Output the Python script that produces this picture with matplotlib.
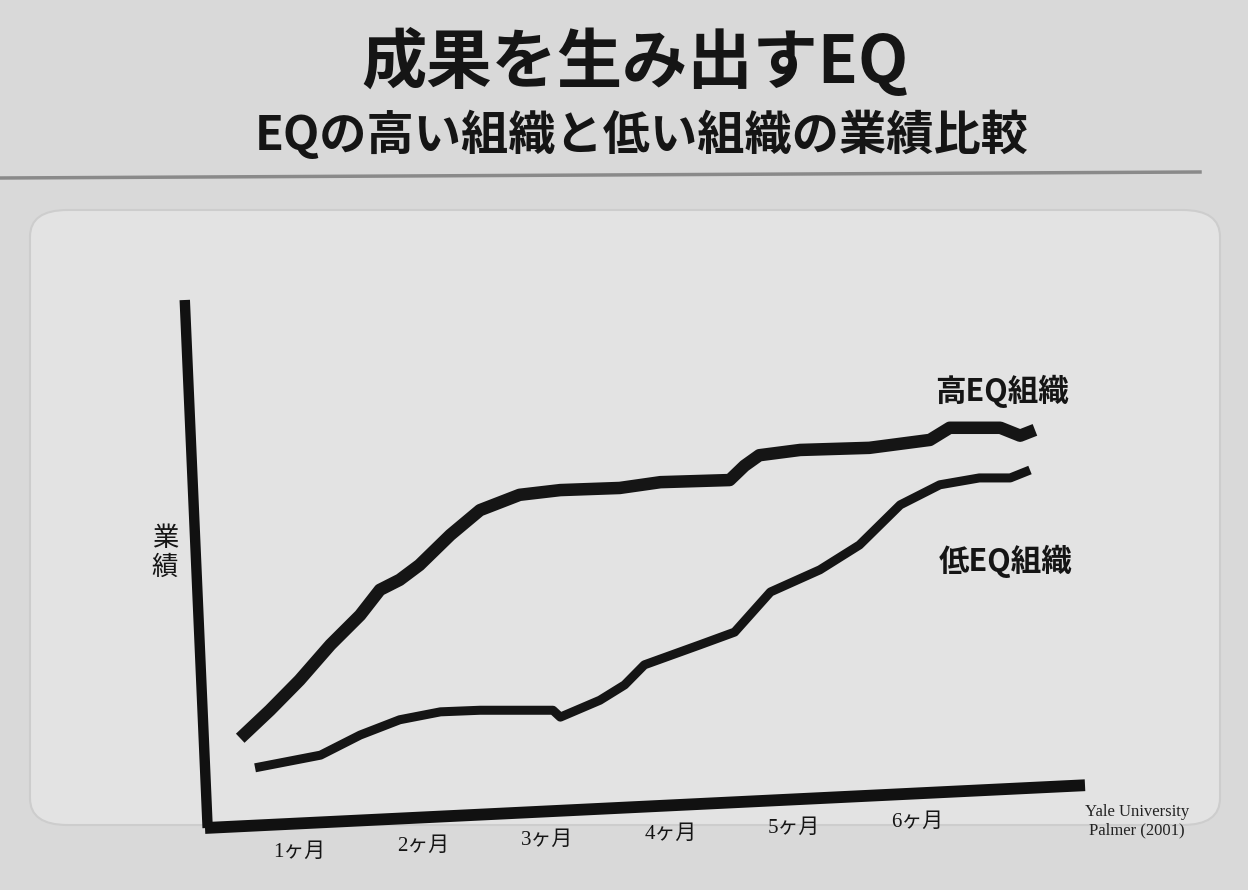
import matplotlib
matplotlib.use("Agg")
import matplotlib.pyplot as plt
from matplotlib.patches import FancyBboxPatch
import numpy as np

plt.rcParams['font.family'] = ['Noto Sans CJK JP', 'DejaVu Sans']

# data (months, performance in arbitrary units 0-100)
high_x = [0.52, 0.76, 1.00, 1.25, 1.49, 1.65, 1.81, 1.97, 2.22, 2.46, 2.78, 3.11,
          3.59, 3.92, 4.48, 4.60, 4.72, 5.05, 5.61, 6.10, 6.26, 6.67, 6.83, 6.95]
high_y = [17.0, 22.3, 28.0, 34.7, 40.3, 45.1, 47.0, 49.8, 55.5, 60.2, 63.1, 64.0,
          64.4, 65.5, 65.9, 68.6, 70.6, 71.6, 72.0, 73.5, 75.8, 75.8, 74.3, 75.4]
low_x = [0.64, 1.17, 1.49, 1.81, 2.14, 2.46, 3.05, 3.11, 3.43, 3.63, 3.79, 4.24,
         4.52, 4.81, 5.21, 5.53, 5.86, 6.18, 6.50, 6.75, 6.91]
low_y = [11.4, 13.8, 17.6, 20.5, 22.0, 22.3, 22.3, 21.0, 24.2, 27.1, 30.9, 34.7,
         37.1, 44.7, 48.9, 53.6, 61.2, 65.0, 66.3, 66.3, 67.8]
months = [1, 2, 3, 4, 5, 6]
month_labels = ['1ヶ月', '2ヶ月', '3ヶ月', '4ヶ月', '5ヶ月', '6ヶ月']

W, H = 1248, 890
fig = plt.figure(figsize=(W / 100, H / 100), dpi=100)
fig.patch.set_facecolor('#d9d9d9')

# slide panel (rounded box) and header rule, kept behind the axes
panel = FancyBboxPatch((30 / W, (H - 825) / H), 1190 / W, 615 / H,
                       boxstyle='round,pad=0,rounding_size=0.03',
                       transform=fig.transFigure, facecolor='#e3e3e3',
                       edgecolor='#cdcdcd', linewidth=1.5, zorder=-10)
fig.patches.append(panel)
fig.add_artist(plt.Line2D([0, 1200 / W], [(H - 178) / H, (H - 172) / H],
                          transform=fig.transFigure, color='#8a8a8a', lw=2.5,
                          zorder=-10))

fig.text(635 / W, (H - 62) / H, '成果を生み出すEQ', ha='center', va='center',
         fontsize=47, fontweight='bold', color='#151515')
fig.text(642 / W, (H - 135) / H, 'EQの高い組織と低い組織の業績比較', ha='center',
         va='center', fontsize=34, fontweight='bold', color='#151515')

ax = fig.add_axes([205 / W, 62 / H, 880 / W, 528 / H])
ax.set_facecolor('none')
ax.set_xlim(0.235, 7.355)
ax.set_ylim(0, 100)
for s in ax.spines.values():
    s.set_visible(False)
ax.set_xticks([])
ax.set_yticks([])

# axis lines (slightly skewed as on the photographed slide)
ax.plot([-0.023, 0.003], [1.0, 0.0], transform=ax.transAxes, color='#111111',
        lw=7.5, solid_capstyle='butt', clip_on=False)
ax.plot([0.0, 1.0], [0.0, 0.081], transform=ax.transAxes, color='#111111',
        lw=8.5, solid_capstyle='butt', clip_on=False)

ax.plot(high_x, high_y, color='#151515', lw=9, solid_capstyle='butt',
        solid_joinstyle='round', clip_on=False)
ax.plot(low_x, low_y, color='#151515', lw=6.5, solid_capstyle='butt',
        solid_joinstyle='round', clip_on=False)

tilt = 0.01144
for m, lab in zip(months, month_labels):
    ax.text(m, -0.047 + tilt * (m - 1), lab,
            transform=ax.get_xaxis_transform(), ha='center', va='center',
            fontsize=15, color='#151515',
            family=['Liberation Serif', 'Noto Sans CJK JP'])

fig.text(165 / W, (H - 553) / H, '業\n績', ha='center', va='center',
         fontsize=19, color='#151515', linespacing=1.1)
ax.text(6.68, 82.6, '高EQ組織', ha='center', va='center', fontsize=22,
        fontweight='bold', color='#151515')
ax.text(6.71, 50.4, '低EQ組織', ha='center', va='center', fontsize=22,
        fontweight='bold', color='#151515')
fig.text(1137 / W, (H - 821) / H, 'Yale University\nPalmer (2001)', ha='center',
         va='center', fontsize=12, color='#222222', family='Liberation Serif',
         linespacing=1.2)

fig.savefig('out.png', dpi=100, facecolor=fig.get_facecolor())
